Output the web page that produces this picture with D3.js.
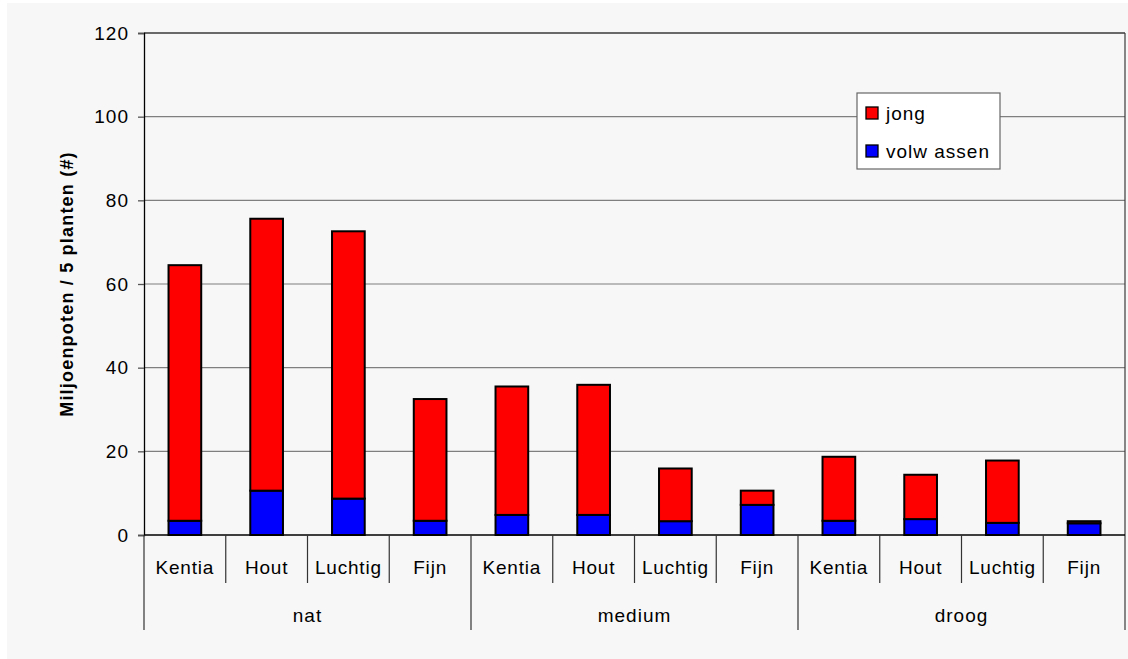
<!DOCTYPE html>
<html>
<head>
<meta charset="utf-8">
<script src="https://cdn.jsdelivr.net/npm/d3@7"></script>
<style>
  body { margin: 0; background: #fff; }
  svg text { font-family: "Liberation Sans", Arial, sans-serif; fill: #000; }
</style>
</head>
<body>
<svg id="chart" width="1128" height="659"></svg>
<script>
// categories (substraat) and groups (vochtigheid)
var groups = ["nat", "medium", "droog"];
var substrates = ["Kentia", "Hout", "Luchtig", "Fijn"];

// series values, in order nat..., medium..., droog...
var volwassen = [3.4, 10.6, 8.7, 3.4, 4.8, 4.8, 3.3, 7.2, 3.4, 3.8, 2.9, 2.8];
var jong = [61.1, 65.0, 63.9, 29.1, 30.7, 31.1, 12.6, 3.4, 15.3, 10.6, 14.9, 0.5];

var yTicks = [0, 20, 40, 60, 80, 100, 120];
var yTitle = "Miljoenpoten / 5 planten (#)";

var svg = d3.select("#chart");

// grey chart area
svg.append("rect")
    .attr("x", 7).attr("y", 3)
    .attr("width", 1121).attr("height", 656)
    .attr("fill", "#f7f7f7");

// plot area edges
var pLeft = 144, pRight = 1125, pTop = 33, pBottom = 535;

// keys for each bar
var keys = [];
groups.forEach(function (g) {
    substrates.forEach(function (s) { keys.push(g + "|" + s); });
});

var x = d3.scaleBand().domain(keys).range([pLeft, pRight]).paddingInner(0).paddingOuter(0);
var y = d3.scaleLinear().domain([0, 120]).range([pBottom, pTop]);

// GRIDLINES
svg.append("g").selectAll("line")
    .data(yTicks.filter(function (d) { return d > 0 && d < 120; }))
    .enter().append("line")
    .attr("x1", pLeft).attr("x2", pRight)
    .attr("y1", function (d) { return y(d); })
    .attr("y2", function (d) { return y(d); })
    .attr("stroke", "#7f7f7f")
    .attr("stroke-width", 1.2);

// frame top and right
svg.append("line")
    .attr("x1", pLeft).attr("x2", pRight).attr("y1", y(120)).attr("y2", y(120))
    .attr("stroke", "#3a3a3a").attr("stroke-width", 1.5);
svg.append("line")
    .attr("x1", pRight).attr("x2", pRight).attr("y1", y(120)).attr("y2", 630)
    .attr("stroke", "#3a3a3a").attr("stroke-width", 1.2);

// STACKED BARS
var rows = keys.map(function (k, i) {
    return { key: k, volwassen: volwassen[i], jong: jong[i] };
});
var stack = d3.stack().keys(["volwassen", "jong"])(rows);
var colors = { volwassen: "#0000ff", jong: "#ff0000" };
var barW = x.bandwidth() * 0.4;

svg.append("g").selectAll("g")
    .data(stack)
    .enter().append("g")
    .attr("fill", function (d) { return colors[d.key]; })
    .selectAll("rect")
    .data(function (d) { return d; })
    .enter().append("rect")
    .attr("x", function (d) { return x(d.data.key) + (x.bandwidth() - barW) / 2; })
    .attr("y", function (d) { return y(d[1]); })
    .attr("width", barW)
    .attr("height", function (d) { return y(d[0]) - y(d[1]); })
    .attr("stroke", "#000")
    .attr("stroke-width", 2);

// Y AXIS
var yAxis = d3.axisLeft(y).tickValues(yTicks).tickSize(6).tickPadding(9);
var ga = svg.append("g").attr("transform", "translate(" + pLeft + ",0)").call(yAxis);
ga.select(".domain").attr("stroke", "#000").attr("stroke-width", 1.3);
ga.selectAll(".tick line").attr("stroke", "#555").attr("stroke-width", 1.3);
ga.selectAll(".tick text").style("font-size", "19px")
    .style("letter-spacing", "1px")
    .style("font-family", "'Liberation Sans', Arial, sans-serif");

// y axis title
svg.append("text")
    .attr("transform", "translate(73," + ((pTop + pBottom) / 2) + ") rotate(-90)")
    .attr("text-anchor", "middle")
    .style("font-size", "18px").style("font-weight", "bold")
    .style("letter-spacing", "1.2px")
    .text(yTitle);

// X AXIS baseline
svg.append("line")
    .attr("x1", pLeft).attr("x2", pRight).attr("y1", pBottom).attr("y2", pBottom)
    .attr("stroke", "#000").attr("stroke-width", 1.5);

// category separators
keys.forEach(function (k, i) {
    var isGroupStart = (i % substrates.length === 0);
    svg.append("line")
        .attr("x1", x(k)).attr("x2", x(k))
        .attr("y1", pBottom).attr("y2", isGroupStart ? 630 : 583)
        .attr("stroke", "#333").attr("stroke-width", 1.2);
    svg.append("text")
        .attr("x", x(k) + x.bandwidth() / 2)
        .attr("y", 574)
        .attr("text-anchor", "middle")
        .style("font-size", "19px")
        .style("letter-spacing", "0.8px")
        .text(k.split("|")[1]);
});

// group labels
var gw = x.bandwidth() * substrates.length;
groups.forEach(function (g, i) {
    svg.append("text")
        .attr("x", pLeft + gw * i + gw / 2)
        .attr("y", 622)
        .attr("text-anchor", "middle")
        .style("font-size", "19px")
        .style("letter-spacing", "1px")
        .text(g);
});

// LEGEND
var legend = svg.append("g").attr("transform", "translate(857,93)");
legend.append("rect")
    .attr("width", 143).attr("height", 76)
    .attr("fill", "#fff").attr("stroke", "#666").attr("stroke-width", 1.2);
var legendItems = ["jong", "volwassen"];
legendItems.forEach(function (name, i) {
    legend.append("rect")
        .attr("x", 9).attr("y", 14 + i * 38)
        .attr("width", 12).attr("height", 12)
        .attr("fill", colors[name]).attr("stroke", "#000").attr("stroke-width", 1.3);
    legend.append("text")
        .attr("x", 29).attr("y", 27 + i * 38)
        .style("font-size", "19px")
        .style("letter-spacing", "1px")
        .text(name === "volwassen" ? "volw assen" : name);
});
</script>
</body>
</html>
